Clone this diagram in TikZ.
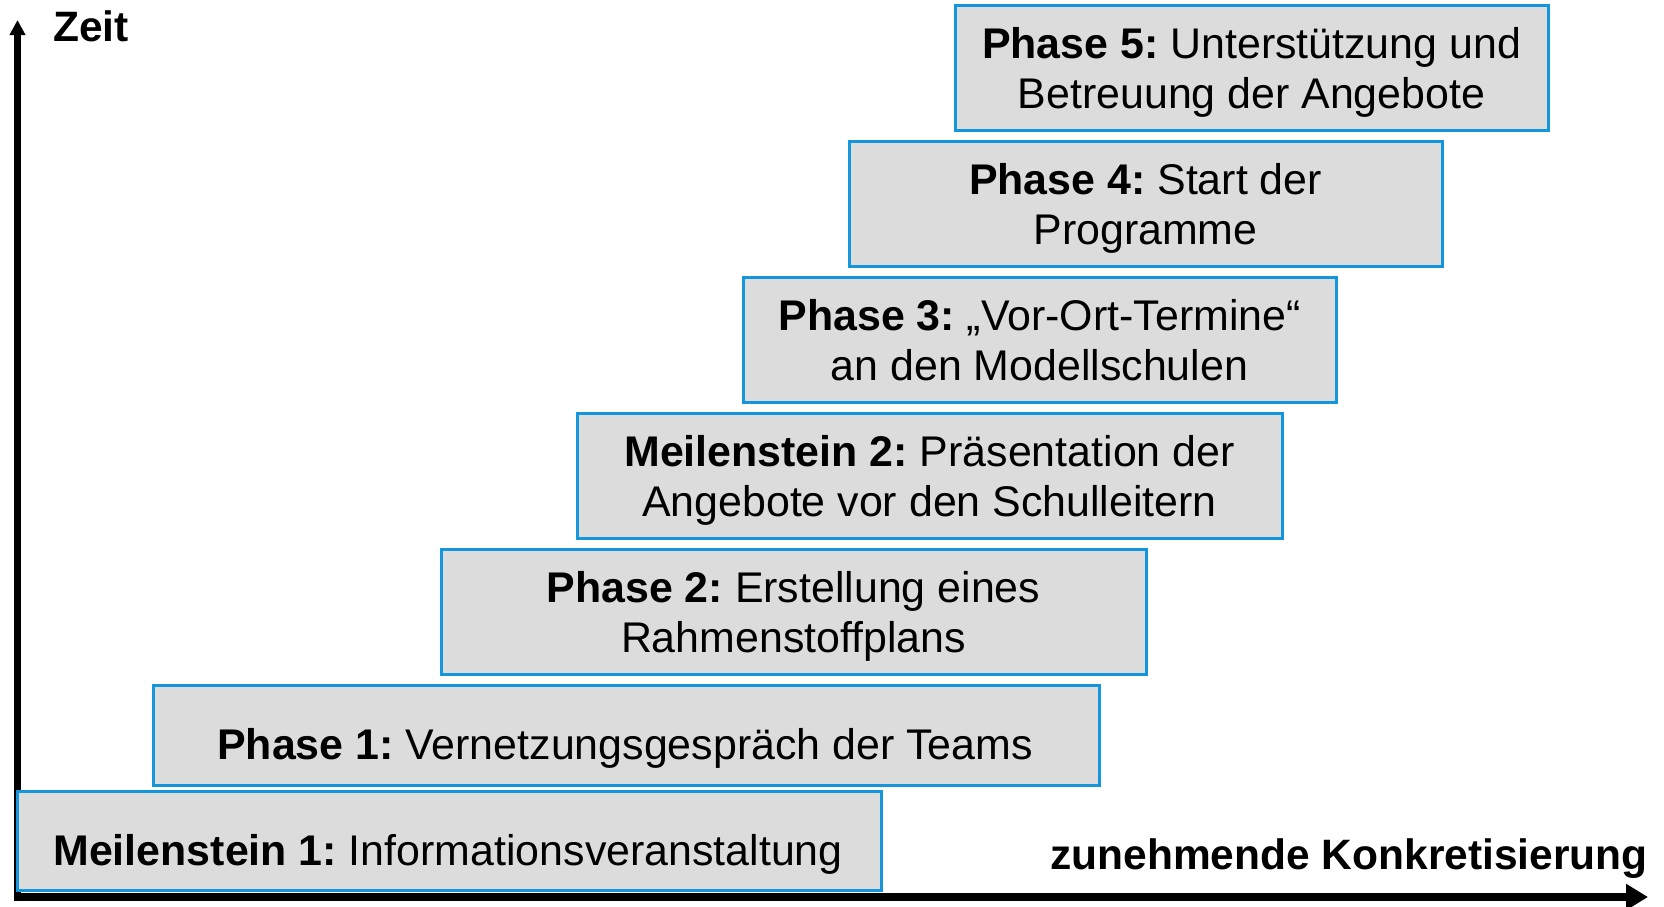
\documentclass[tikz,border=0pt]{standalone}
\usepackage{fontspec}
\setmainfont{Liberation Sans}
\usetikzlibrary{arrows.meta}
\definecolor{boxfill}{RGB}{220,220,220}
\definecolor{boxline}{RGB}{20,150,220}
\frenchspacing
\begin{document}
\begin{tikzpicture}[x=0.5pt,y=-0.5pt,
  stepbox/.style={draw=boxline, fill=boxfill, line width=1.5pt, inner sep=0pt},
  boxtext/.style={inner sep=0pt, align=center, anchor=base,
    font=\fontsize{21.45pt}{25pt}\selectfont},
  axislbl/.style={inner sep=0pt, font=\fontsize{21.25pt}{25pt}\selectfont\bfseries}]
\useasboundingbox (0,0) rectangle (1664,906);
% axes
\coordinate (yo) at (17.5,901);
\coordinate (ytip) at (17.5,20);
\coordinate (xo) at (14,897);
\coordinate (xtip) at (1648,897);
\draw[line width=3.5pt, -{Triangle[length=7.5pt,width=7.5pt]}] (yo) -- (ytip);
\draw[line width=4pt, -{Triangle[length=11pt,width=12.5pt]}] (xo) -- (xtip);
\node[axislbl, anchor=base west] (zeit) at (53,41) {Zeit};
\node[axislbl, anchor=base west] (konk) at (1050,869) {zunehmende Konkretisierung};
% boxes
\node[stepbox, minimum width=432pt, minimum height=49.5pt] (m1) at (449,840.5) {};
\node[stepbox, minimum width=473pt, minimum height=50pt] (p1) at (626,735) {};
\node[stepbox, minimum width=352.5pt, minimum height=62.5pt] (p2) at (793.5,611.5) {};
\node[stepbox, minimum width=352.5pt, minimum height=62.5pt] (m2) at (929.5,475.5) {};
\node[stepbox, minimum width=296.5pt, minimum height=62.5pt] (p3) at (1039.5,339.5) {};
\node[stepbox, minimum width=296.5pt, minimum height=62.5pt] (p4) at (1145.5,203.5) {};
\node[stepbox, minimum width=296.5pt, minimum height=62.5pt] (p5) at (1251.5,67.5) {};
% texts (anchored at the baseline of the last line)
\node[boxtext] (m1t) at (448,865) {\textbf{Meilenstein 1:} Informationsveranstaltung};
\node[boxtext] (p1t) at (625,759) {\textbf{Phase 1:} Vernetzungsgespräch der Teams};
\node[boxtext] (p2t) at (793.5,652) {\textbf{Phase 2:} Erstellung eines\\Rahmenstoffplans};
\node[boxtext] (m2t) at (929.5,516) {\textbf{Meilenstein 2:} Präsentation der\\Angebote vor den Schulleitern};
\node[boxtext] (p3t) at (1039.5,380) {\textbf{Phase 3:} „Vor-Ort-Termine“\\an den Modellschulen};
\node[boxtext] (p4t) at (1145.5,244) {\textbf{Phase 4:} Start der\\Programme};
\node[boxtext] (p5t) at (1251.5,108) {\textbf{Phase 5:} Unterstützung und\\Betreuung der Angebote};
\end{tikzpicture}
\end{document}
